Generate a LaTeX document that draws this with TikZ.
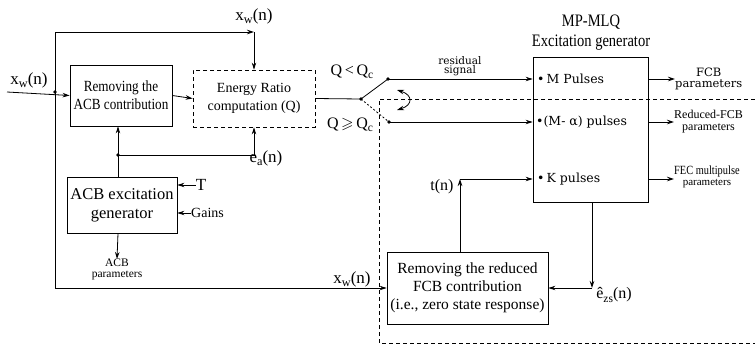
\documentclass[tikz,border=0pt]{standalone}
\usepackage{amssymb}
\usepackage{graphicx}
\usepackage{fontspec}
\setmainfont{Liberation Serif}
\newfontfamily\wideserif{DejaVu Serif}
\usetikzlibrary{arrows.meta}
\newcommand{\lowsub}[1]{\raisebox{-0.45ex}{\scalebox{0.72}{#1}}}
\newcommand{\narrow}[1]{\scalebox{0.83}[1]{#1}}

\begin{document}
\begin{tikzpicture}[x=1pt,y=-1pt,
  >={Stealth[length=7pt,width=4.5pt]},
  box/.style={draw,line width=0.8pt,align=center,inner sep=0pt},
  wire/.style={line width=0.8pt},
  lbl/.style={font=\fontsize{17}{19}\selectfont,inner sep=0pt},
  pulse/.style={anchor=west,inner sep=0pt,font=\wideserif\fontsize{12.5}{15}\selectfont},
  small/.style={font=\fontsize{11.5}{11}\selectfont,align=center,inner sep=0pt}]
\path[use as bounding box] (0,0) rectangle (755,346);
% blocks
\node[box,minimum width=102,minimum height=61,font=\fontsize{15.5}{18}\selectfont] (acbrem) at (121,95.5) {\scalebox{0.85}[1]{Removing the}\\\scalebox{0.85}[1]{ACB contribution}};
\node[box,dashed,dash pattern=on 4pt off 3pt,minimum width=122,minimum height=57,font=\fontsize{14}{18}\selectfont] (ratio) at (254,98.5) {Energy Ratio\\computation (Q)};
\node[box,minimum width=110,minimum height=56,font=\fontsize{16.5}{19}\selectfont] (acbgen) at (122,205) {ACB excitation\\generator};
\node[box,minimum width=115,minimum height=145] (mlq) at (590.5,129.5) {};
\node[font=\fontsize{17.5}{20}\selectfont,align=center,inner sep=0pt] (mlqtitle) at (591,33) {\narrow{MP-MLQ}\\\narrow{Excitation generator}};
\node[box,minimum width=161,minimum height=72,font=\fontsize{15.5}{18}\selectfont] (fcbrem) at (467.5,288) {Removing the reduced\\FCB contribution\\(i.e., zero state response)};
% inputs of the MP-MLQ box
\node[pulse] (mp) at (537,79) {\textbullet\,M Pulses};
\node[pulse] (map) at (536,122) {\textbullet(M- α) pulses};
\node[pulse] (kp) at (537,179) {\textbullet\,K pulses};
% points
\coordinate (in) at (7,92);
\coordinate (jx) at (55,92);
\coordinate (top) at (254,32);
\coordinate (sw) at (361,99);
\coordinate (up) at (388,79);
\coordinate (dn) at (389,122);
\coordinate (sa) at (397,90);
\coordinate (sb) at (397,110);
\coordinate (fb) at (118,155);
\coordinate (tn) at (460,179);
\coordinate (ez) at (592,288);
% labels
\node[lbl] (xin) at (29,80) {x\lowsub{w}(n)};
\node[lbl] (xtop) at (254,16) {x\lowsub{w}(n)};
\node[lbl] (xbot) at (352,279) {x\lowsub{w}(n)};
\node[lbl] (ea) at (266,158) {e\lowsub{a}(n)};
\node[lbl,font=\fontsize{16}{18}\selectfont] (qlt) at (352,72) {Q\,<\,Q\lowsub{c}};
\node[lbl,font=\fontsize{16}{18}\selectfont] (qge) at (350,125) {Q\,$\geqslant$\,Q\lowsub{c}};
\node[small,font=\wideserif\fontsize{10.5}{9.5}\selectfont] (resid) at (460,66) {residual\\signal};
\node[lbl] (tlab) at (201,185) {T};
\node[anchor=west,inner sep=0pt,font=\fontsize{14}{16}\selectfont] (gains) at (191,213) {Gains};
\node[small,anchor=north] (acbpar) at (117,259) {ACB\\parameters};
\node[small,anchor=west,font=\wideserif\fontsize{11.5}{10.5}\selectfont] (fcbpar) at (675,79) {FCB\\parameters};
\node[small,anchor=west,font=\fontsize{12}{12}\selectfont] (rfcbpar) at (674,122) {Reduced-FCB\\parameters};
\node[small,anchor=west,font=\fontsize{11}{11}\selectfont] (fecpar) at (674,177) {\narrow{\fontsize{12.5}{12}\selectfont FEC multipulse}\\parameters};
\node[lbl,font=\fontsize{16}{18}\selectfont] (tnl) at (442,187) {t(n)};
\node[lbl,font=\fontsize{16}{18}\selectfont] (ezl) at (614,295) {ê\lowsub{zs}(n)};
% connectors
\draw[wire,->] (in) -- (acbrem.west);
\draw[wire,->] (jx) |- (top);
\draw[wire,->] (top) -- (ratio.north);
\draw[wire,->] (jx) |- (fcbrem.west);
\draw[wire,->] (acbrem.east) -- (ratio.west);
\draw[wire] (ratio.east) -- (sw);
\draw[wire] (sw) -- (up);
\draw[wire,dashed,dash pattern=on 2pt off 2pt] (sw) -- (dn);
\draw[wire,->] (up) -- (up -| mlq.west);
\draw[wire,->] (dn) -- (dn -| mlq.west);
\draw[wire,<->] (sa) .. controls (413,95) and (413,105) .. (sb);
\draw[wire,->] (fb |- acbgen.north) -- (fb |- acbrem.south);
\draw[wire,->] (fb) -| (ratio.south);
\draw[wire,->] (tlab.west) -- (tlab.west -| acbgen.east);
\draw[wire,->] (gains.west) -- (gains.west -| acbgen.east);
\draw[wire,->] (fb |- acbgen.south) -- (acbpar.north);
\draw[wire,->] (up -| mlq.east) -- (fcbpar.west |- up);
\draw[wire,->] (dn -| mlq.east) -- (rfcbpar.west |- dn);
\draw[wire,->] (tn -| mlq.east) -- (fecpar.west |- tn);
\draw[wire,->] (tn |- fcbrem.north) -- (tn);
\draw[wire,->] (tn) -- (tn -| mlq.west);
\draw[wire,->] (ez |- mlq.south) -- (ez);
\draw[wire,->] (ez) -- (fcbrem.east);
\foreach \p in {jx,fb,sw,up,dn} \fill (\p) circle (1.8);
% switched region
\draw[wire,dash pattern=on 4pt off 3pt] (755,99) -- (379,99) -- (379,343) -- (755,343);
\end{tikzpicture}
\end{document}
